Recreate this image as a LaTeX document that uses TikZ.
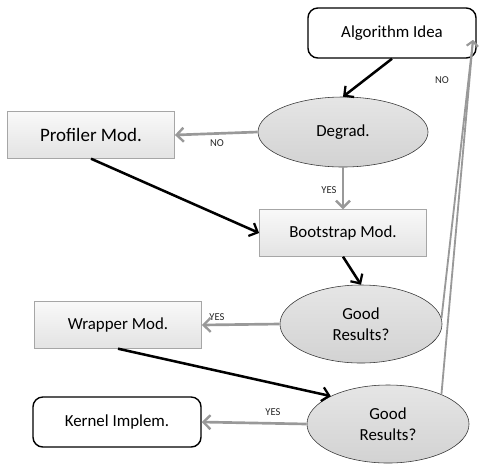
\documentclass[tikz,border=0pt]{standalone}
\usepackage{fontspec}
\setmainfont{Carlito}
\usetikzlibrary{arrows.meta,shapes.geometric}

\definecolor{boxline}{HTML}{A6A6A6}
\definecolor{flowgray}{HTML}{999999}

\tikzset{
  modbox/.style={rectangle,draw=boxline,thin,top color=gray!5,bottom color=gray!22,
    minimum width=4.18cm,minimum height=1.17cm,font=\fontsize{12}{14}\selectfont},
  endbox/.style={rectangle,rounded corners=7pt,draw=black,line width=1pt,fill=white,
    minimum width=4.2cm,minimum height=1.25cm,font=\fontsize{12}{14}\selectfont},
  test/.style={ellipse,draw=black!80,thin,top color=gray!20,bottom color=gray!35,
    align=center,font=\fontsize{12}{14.5}\selectfont},
  go/.style={draw=black,line width=1.8pt,-{Straight Barb[length=5pt,width=10pt,line width=1.6pt]}},
  back/.style={draw=flowgray,line width=1.9pt,-{Straight Barb[length=5pt,width=10pt,line width=1.7pt]}},
  loop/.style={draw=flowgray,line width=1.3pt,-{Straight Barb[length=3.5pt,width=8pt,line width=1.3pt]}},
  tag/.style={font=\fontsize{7.5}{8}\selectfont,text=black!85,inner sep=1pt}
}

\begin{document}
\begin{tikzpicture}[x=0.025cm,y=-0.025cm]
  \useasboundingbox (0,0) rectangle (479,463);

  % boxes
  \node[endbox] (idea) at (392,33) {Algorithm Idea};
  \node[modbox,font=\fontsize{13.5}{16}\selectfont] (profiler) at (91,135) {Profiler Mod.};
  \node[modbox] (bootstrap) at (343,233) {Bootstrap Mod.};
  \node[modbox] (wrapper) at (118,325) {Wrapper Mod.};
  \node[endbox] (kernel) at (117,422) {Kernel Implem.};

  % tests
  \node[test,minimum width=4.25cm,minimum height=1.75cm] (degrad) at (343,132) {Degrad.};
  \node[test,minimum width=4.05cm,minimum height=1.95cm] (good1) at (361,324) {Good\\Results?};
  \node[test,minimum width=4.05cm,minimum height=1.95cm] (good2) at (388,424) {Good\\Results?};

  \coordinate (ret) at (473,40);

  % main flow
  \draw[go] (idea.south) -- (degrad.north);
  \draw[go] (profiler.south) -- (bootstrap.west);
  \draw[go] (bootstrap.south) -- (good1.north);
  \draw[go] (wrapper.south) -- (good2.154);

  % decisions
  \draw[back] (degrad.west) -- (profiler.east);
  \draw[back] (degrad.south) -- (bootstrap.north);
  \draw[back] (good1.west) -- (wrapper.east);
  \draw[back] (good2.west) -- (kernel.east);
  \draw[loop] (good1.4) -- (ret);
  \draw[loop] (good2.29) -- (ret);

  % labels
  \node[tag] (no1) at (217,143) {NO};
  \node[tag] (yes1) at (329,190) {YES};
  \node[tag] (yes2) at (217,317) {YES};
  \node[tag] (yes3) at (273,412) {YES};
  \node[tag] (no2) at (442,80) {NO};
\end{tikzpicture}
\end{document}
